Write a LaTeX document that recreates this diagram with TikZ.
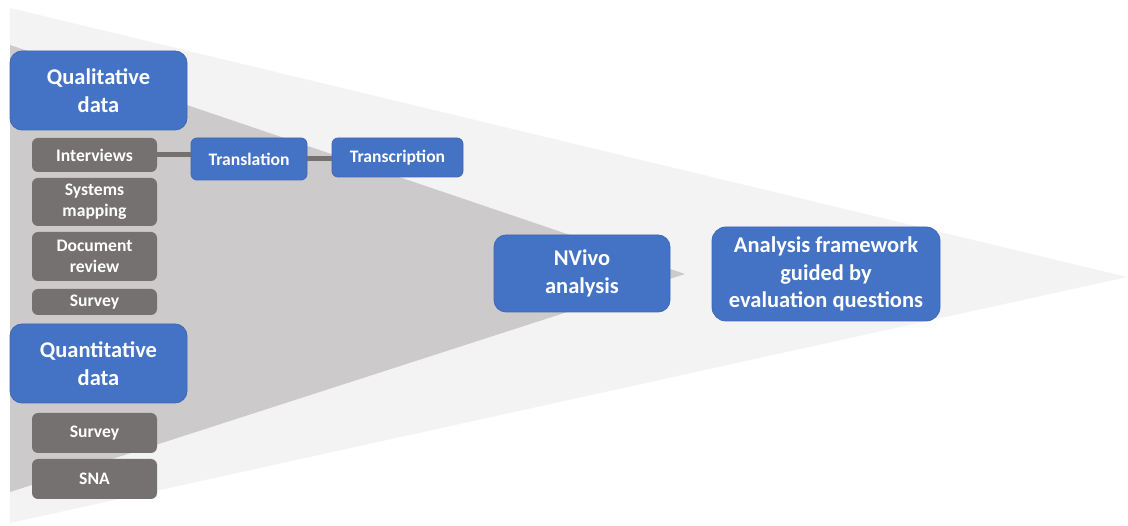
\documentclass[tikz,border=0pt]{standalone}
\usepackage{fontspec}
\setmainfont{Carlito}
\definecolor{boxblue}{HTML}{4472C4}
\definecolor{boxblueline}{HTML}{3F68B5}
\definecolor{boxgray}{HTML}{767171}
\definecolor{darkfan}{HTML}{CCCACA}
\definecolor{lightfan}{HTML}{F3F3F3}
\tikzset{
  bigbox/.style={fill=boxblue, draw=boxblueline, line width=0.8pt, text=white, align=center, inner sep=0pt,
    font=\fontsize{22.5}{27.5}\selectfont\bfseries},
  smallblue/.style={fill=boxblue, draw=boxblueline, line width=0.8pt, rounded corners=6pt, text=white, align=center, inner sep=0pt,
    font=\fontsize{17.6}{21}\selectfont\bfseries},
  graybox/.style={fill=boxgray, rounded corners=6pt, text=white, align=center, inner sep=0pt,
    minimum width=125pt, font=\fontsize{17.6}{21}\selectfont\bfseries},
  link/.style={draw=boxgray, line width=5pt}
}
\begin{document}
\begin{tikzpicture}[x=1pt,y=-1pt]
\useasboundingbox (0,0) rectangle (1128,526);
\fill[white] (0,0) rectangle (1128,526);
% fans
\fill[lightfan] (10,8) -- (1127,277) -- (10,523) -- cycle;
\fill[darkfan] (10,45) -- (685,274) -- (10,492) -- cycle;
% left column
\node[bigbox, rounded corners=12pt, minimum width=177pt, minimum height=79pt] (qual) at (98.5,90.5) {Qualitative\\data};
\node[graybox, minimum height=34pt] (intv) at (94.5,155) {Interviews};
\node[graybox, minimum height=48pt] (sysm) at (94.5,202) {Systems\\mapping};
\node[graybox, minimum height=49pt] (docr) at (94.5,256.5) {Document\\review};
\node[graybox, minimum height=26pt] (surv1) at (94.5,302) {Survey};
\node[bigbox, rounded corners=12pt, minimum width=177pt, minimum height=79pt] (quant) at (98.5,363.5) {Quantitative\\data};
\node[graybox, minimum height=40pt] (surv2) at (94.5,433) {Survey};
\node[graybox, minimum height=40pt] (sna) at (94.5,479) {SNA};
% processing
\node[smallblue, minimum width=116pt, minimum height=42pt] (transl) at (249,159) {Translation};
\node[smallblue, minimum width=131pt, minimum height=39pt] (transc) at (397.5,157.5) {Transcription};
\node[bigbox, rounded corners=12pt, minimum width=176pt, minimum height=77pt] (nvivo) at (582,273.5) {NVivo\\analysis};
\node[bigbox, rounded corners=14pt, minimum width=228pt, minimum height=94pt] (frame) at (826,274) {Analysis framework\\guided by\\evaluation questions};
% connectors
\draw[link] (intv.east) -- (intv.east -| transl.west);
\draw[link] (transl.east) -- (transl.east -| transc.west);
\end{tikzpicture}
\end{document}
